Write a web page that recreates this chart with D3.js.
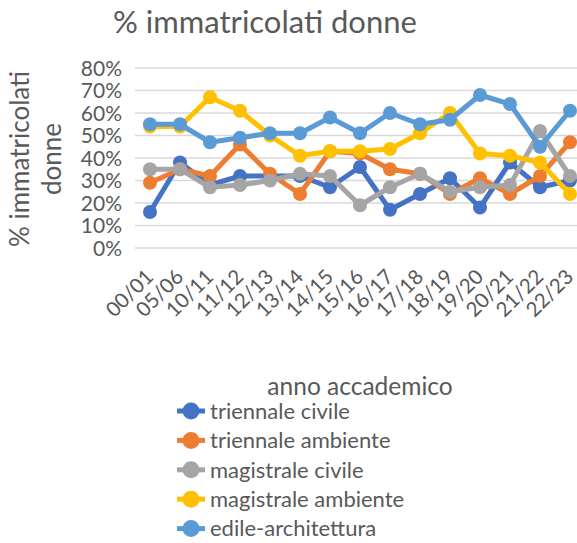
<!DOCTYPE html>
<html>
<head>
<meta charset="utf-8">
<script src="https://cdn.jsdelivr.net/npm/d3@7"></script>
<style>
  body { margin: 0; background: #fff; }
  text { font-family: Lato, "Open Sans", sans-serif; fill: #595959; }
</style>
</head>
<body>
<script>
// anni accademici (categorie)
var anni = ["00/01","05/06","10/11","11/12","12/13","13/14","14/15","15/16","16/17","17/18","18/19","19/20","20/21","21/22","22/23"];
// nomi delle serie e colori
var serieNomi = ["triennale civile","triennale ambiente","magistrale civile","magistrale ambiente","edile-architettura"];
var colori = ["#4472C4","#ED7D31","#A5A5A5","#FFC000","#5B9BD5"];
// valori (frazioni)
var triennaleCivile    = [0.16,0.38,0.28,0.32,0.32,0.32,0.27,0.36,0.17,0.24,0.31,0.18,0.38,0.27,0.30];
var triennaleAmbiente  = [0.29,0.35,0.32,0.46,0.33,0.24,0.43,0.42,0.35,0.33,0.24,0.31,0.24,0.32,0.47];
var magistraleCivile   = [0.35,0.35,0.27,0.28,0.30,0.33,0.32,0.19,0.27,0.33,0.25,0.27,0.28,0.52,0.32];
var magistraleAmbiente = [0.54,0.54,0.67,0.61,0.50,0.41,0.43,0.43,0.44,0.51,0.60,0.42,0.41,0.38,0.24];
var edileArchitettura  = [0.55,0.55,0.47,0.49,0.51,0.51,0.58,0.51,0.60,0.55,0.57,0.68,0.64,0.45,0.61];
var yTicks = [0,0.1,0.2,0.3,0.4,0.5,0.6,0.7,0.8];

var serie = [triennaleCivile, triennaleAmbiente, magistraleCivile, magistraleAmbiente, edileArchitettura];

var width = 577, height = 543;

var svg = d3.select("body").append("svg")
  .attr("width", width)
  .attr("height", height);

//scale
var x = d3.scalePoint().domain(anni).range([150, 570]);
var y = d3.scaleLinear().domain([0, 0.8]).range([248, 68]);

//griglia orizzontale
svg.append("g").selectAll("line")
  .data(yTicks)
  .enter().append("line")
  .attr("x1", 135).attr("x2", width)
  .attr("y1", function(d) { return y(d); })
  .attr("y2", function(d) { return y(d); })
  .style("stroke", "#D9D9D9")
  .style("stroke-width", 1.5);

//asse y (solo etichette)
var yAxis = d3.axisLeft(y).tickValues(yTicks).tickFormat(d3.format(".0%")).tickSize(0).tickPadding(0);
var gy = svg.append("g")
  .attr("transform", "translate(122,0)")
  .call(yAxis);
gy.select(".domain").remove();
gy.selectAll("text")
  .attr("dy", "0.35em")
  .style("font-size", "21px")
  .style("font-family", "Lato, sans-serif")
  .style("fill", "#595959");

//asse x (etichette ruotate)
var xAxis = d3.axisBottom(x).tickSize(0).tickPadding(0);
var gx = svg.append("g")
  .attr("transform", "translate(0,273)")
  .call(xAxis);
gx.select(".domain").remove();
gx.selectAll("text")
  .attr("text-anchor", "end")
  .attr("dy", "0.35em")
  .attr("transform", "translate(-1,0) rotate(-45)")
  .style("font-size", "20.5px")
  .style("font-family", "Lato, sans-serif")
  .style("fill", "#595959");

//titolo
svg.append("text")
  .attr("x", 265)
  .attr("y", 33)
  .attr("text-anchor", "middle")
  .style("font-size", "31px")
  .text("% immatricolati donne");

//titolo asse y su due righe
var yTitle = svg.append("text")
  .attr("transform", "translate(29,159) rotate(-90)")
  .attr("text-anchor", "middle")
  .style("font-size", "26px");
yTitle.append("tspan").attr("x", 0).attr("dy", 0).text("% immatricolati");
yTitle.append("tspan").attr("x", 0).attr("dy", 32).text("donne");

//titolo asse x
svg.append("text")
  .attr("x", 360)
  .attr("y", 395)
  .attr("text-anchor", "middle")
  .style("font-size", "24.5px")
  .text("anno accademico");

//linee e punti
var line = d3.line()
  .x(function(d, i) { return x(anni[i]); })
  .y(function(d) { return y(d); });

serie.forEach(function(vals, s) {
  svg.append("path")
    .datum(vals)
    .attr("d", line)
    .style("fill", "none")
    .style("stroke", colori[s])
    .style("stroke-width", 5)
    .style("stroke-linejoin", "round");

  svg.append("g").selectAll("circle")
    .data(vals)
    .enter().append("circle")
    .attr("cx", function(d, i) { return x(anni[i]); })
    .attr("cy", function(d) { return y(d); })
    .attr("r", 7)
    .style("fill", colori[s]);
});

//legenda
var legend = svg.append("g")
  .selectAll("g")
  .data(serieNomi)
  .enter().append("g")
  .attr("transform", function(d, i) { return "translate(0," + (411 + i * 29.4) + ")"; });

legend.append("line")
  .attr("x1", 177).attr("x2", 205)
  .attr("y1", 0).attr("y2", 0)
  .style("stroke", function(d, i) { return colori[i]; })
  .style("stroke-width", 5);

legend.append("circle")
  .attr("cx", 191)
  .attr("cy", 0)
  .attr("r", 8.5)
  .style("fill", function(d, i) { return colori[i]; });

legend.append("text")
  .attr("x", 210)
  .attr("y", 0)
  .attr("dy", "0.35em")
  .style("font-size", "22px")
  .text(function(d) { return d; });
</script>
</body>
</html>
